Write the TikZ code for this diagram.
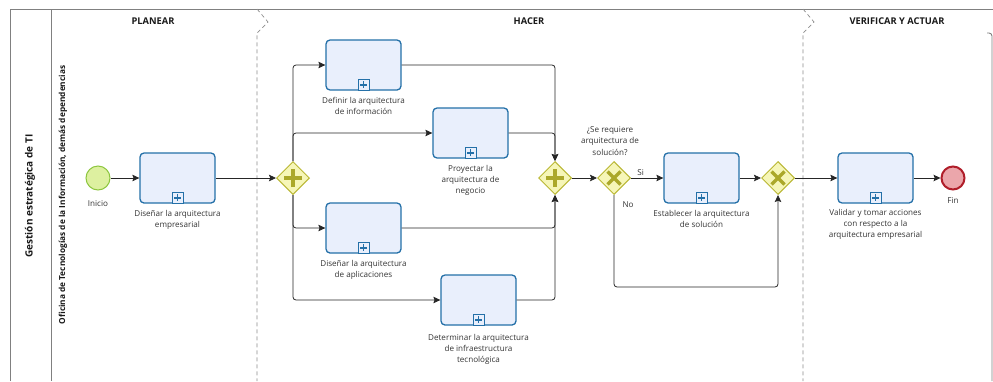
\documentclass[tikz,border=0pt]{standalone}
\usepackage{fontspec}
\setmainfont{Open Sans}
\usetikzlibrary{
  arrows.meta, % for the Stealth arrow tips
  positioning, % for the labels below the tasks and events
  shapes.geometric, % for the diamond gateways
}
\definecolor{taskfill}{HTML}{E9EFFC}
\definecolor{taskline}{HTML}{2470A8}
\definecolor{gatefill}{HTML}{F6F6B8}
\definecolor{gateline}{HTML}{B9B733}
\definecolor{gatemark}{HTML}{ABA82A}
\definecolor{startfill}{HTML}{DDF0A0}
\definecolor{startline}{HTML}{8DC63F}
\definecolor{endfill}{HTML}{EBA6AB}
\definecolor{endline}{HTML}{B01E2A}
\definecolor{txt}{HTML}{333333}
\tikzset{
  task/.style={ % style for each sub-process
    rectangle,draw=taskline,line width=1.3pt, % drawn as a thick blue rectangle
    rounded corners=4pt, % with soft corners
    fill=taskfill, % light blue inside
    minimum width=75pt,minimum height=50pt, % every task has the same size
  },
  markbox/.style={ % style for the small sub-process marker
    rectangle,draw=taskline,line width=1pt,
    fill=taskfill,
    inner sep=0pt,
    minimum size=11pt,
  },
  markplus/.style={ % the plus inside the marker
    draw=taskline,line width=1.8pt,
  },
  gate/.style={ % style for the gateways
    diamond,draw=gateline,line width=1pt,
    fill=gatefill,
    inner sep=0pt,
    minimum width=33pt,minimum height=33pt,
  },
  gatesign/.style={ % the plus or cross in a gateway
    draw=gatemark,line width=3.3pt,
  },
  start/.style={ % start event
    circle,draw=startline,line width=1pt,
    fill=startfill,
    minimum size=24pt,inner sep=0pt,
  },
  finish/.style={ % end event
    circle,draw=endline,line width=2pt,
    fill=endfill,
    minimum size=23pt,inner sep=0pt,
  },
  flow/.style={ % style for the sequence flows
    -{Stealth[length=7pt,width=6.5pt,inset=1.2pt]},
    draw=black!85,line width=0.8pt,
    rounded corners=3pt,
  },
  tasklabel/.style={ % text under tasks
    font=\fontsize{8.1}{11.4}\selectfont,
    text=txt,align=center,inner sep=1pt,
  },
  flowlabel/.style={ % text on the flows
    font=\fontsize{8.1}{11.4}\selectfont,
    text=txt,inner sep=2pt,
  },
  pool/.style={ % pool border
    draw=black!50,line width=0.9pt,
  },
  phase/.style={ % dashed phase separator
    draw=black!45,line width=0.7pt,dash pattern=on 4pt off 3pt,
  },
  phasetitle/.style={ % phase headings
    font=\fontsize{9.3}{11}\selectfont\bfseries,text=black!90,
  },
}
\newcommand{\submark}[1]{%
  \node[markbox, above=0pt of #1.south] (#1-mark) {};
  \draw[markplus] (#1-mark.center) +(-3.3pt,0) -- +(3.3pt,0)
    (#1-mark.center) +(0,-3.3pt) -- +(0,3.3pt);
}
\newcommand{\andsign}[1]{%
  \draw[gatesign] (#1.center) +(-9pt,0) -- +(9pt,0)
    (#1.center) +(0,-9pt) -- +(0,9pt);
}
\newcommand{\xorsign}[1]{%
  \draw[gatesign] (#1.center) +(-6.5pt,-6.5pt) -- +(6.5pt,6.5pt)
    (#1.center) +(-6.5pt,6.5pt) -- +(6.5pt,-6.5pt);
}

\begin{document}
\begin{tikzpicture}[x=1pt,y=-1pt]
	\useasboundingbox (0,0) rectangle (993,381);
	
	% pool, lane and phases
	\draw[pool] (10,381) -- (10,9) -- (993,9);
	\draw[pool] (51,9) -- (51,381);
	\draw[pool, rounded corners=3pt] (992,381) -- (992,33) -- (987,33);
	\draw[phase] (257,9) -- (268,22) -- (257,33) -- (257,381);
	\draw[phase] (803,9) -- (814,22) -- (803,33) -- (803,381);
	
	\node[rotate=90, font=\fontsize{10}{12}\selectfont\bfseries, text=black!90] (pool) at (30,196) {Gestión estratégica de TI};
	\node[rotate=90, font=\fontsize{8.3}{10}\selectfont\bfseries, text=black!90] (lane) at (63,195) {Oficina de Tecnologías de la Información, demás dependencias};
	\node[phasetitle] (planear) at (153,21) {PLANEAR};
	\node[phasetitle] (hacer) at (529,21) {HACER};
	\node[phasetitle] (verificar) at (897,21) {VERIFICAR Y ACTUAR};
	
	% planear
	\node[start] (inicio) at (98,178) {};
	\node[tasklabel, below=9pt of inicio] (inicio-l) {Inicio};
	
	\node[task] (empresarial) at (177.5,178) {};
	\node[tasklabel, below=5pt of empresarial] (empresarial-l) {Diseñar la arquitectura\\empresarial};
	
	% hacer
	\node[gate] (abrir) at (293,178) {};
	
	\node[task] (informacion) at (363.5,65) {};
	\node[tasklabel, below=5pt of informacion] (informacion-l) {Definir la arquitectura\\de información};
	
	\node[task] (negocio) at (470.5,133) {};
	\node[tasklabel, below=5pt of negocio] (negocio-l) {Proyectar la\\arquitectura de\\negocio};
	
	\node[task] (aplicaciones) at (363.5,228) {};
	\node[tasklabel, below=5pt of aplicaciones] (aplicaciones-l) {Diseñar la arquitectura\\de aplicaciones};
	
	\node[task] (infra) at (478.5,300) {};
	\node[tasklabel, below=7pt of infra] (infra-l) {Determinar la arquitectura\\de infraestructura\\tecnológica};
	
	\node[gate] (cerrar) at (555,178) {};
	
	\node[gate] (decide) at (614,178) {};
	\node[tasklabel] (pregunta) at (610,141) {¿Se requiere\\arquitectura de\\solución?};
	\node[flowlabel] (no) at (628,205) {No};
	
	\node[task] (solucion) at (701.5,178) {};
	\node[tasklabel, below=5pt of solucion] (solucion-l) {Establecer la arquitectura\\de solución};
	
	\node[gate] (unir) at (778,178) {};
	
	% verificar y actuar
	\node[task] (validar) at (875.5,178) {};
	\node[tasklabel, below=4pt of validar] (validar-l) {Validar y tomar acciones\\con respecto a la\\arquitectura empresarial};
	
	\node[finish] (fin) at (953,178) {};
	\node[tasklabel, below=6pt of fin] (fin-l) {Fin};
	
	\submark{empresarial}
	\submark{informacion}
	\submark{negocio}
	\submark{aplicaciones}
	\submark{infra}
	\submark{solucion}
	\submark{validar}
	\andsign{abrir}
	\andsign{cerrar}
	\xorsign{decide}
	\xorsign{unir}
	
	\draw[flow] (inicio) -- (empresarial);
	\draw[flow] (empresarial) -- (abrir);
	\draw[flow] (abrir.north) |- (informacion);
	\draw[flow] (abrir.north) |- (negocio);
	\draw[flow] (abrir.south) |- (aplicaciones);
	\draw[flow] (abrir.south) |- (infra);
	\draw[flow] (informacion.east) -| (cerrar.north);
	\draw[flow] (negocio.east) -| (cerrar.north);
	\draw[flow] (aplicaciones.east) -| (cerrar.south);
	\draw[flow] (infra.east) -| (cerrar.south);
	\draw[flow] (cerrar) -- (decide);
	\draw[flow] (decide) -- node[flowlabel, above, pos=0.3] {Si} (solucion);
	\draw[flow] (decide.south) -- ++(0,92) -| (unir.south);
	\draw[flow] (solucion) -- (unir);
	\draw[flow] (unir) -- (validar);
	\draw[flow] (validar) -- (fin);
\end{tikzpicture}
\end{document}
